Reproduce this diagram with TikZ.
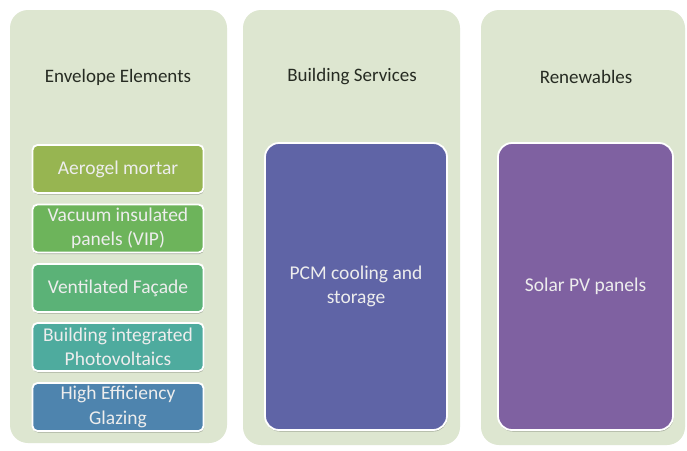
\documentclass[tikz,border=0pt]{standalone}
\usepackage{fontspec}
\setmainfont{Carlito}
\usetikzlibrary{shadows}
\definecolor{panelbg}{HTML}{DDE6D0}
\definecolor{cA}{HTML}{97B551}
\definecolor{cB}{HTML}{6DB45B}
\definecolor{cC}{HTML}{5BB277}
\definecolor{cD}{HTML}{4EAB9E}
\definecolor{cE}{HTML}{4E84AE}
\definecolor{cF}{HTML}{5F64A6}
\definecolor{cG}{HTML}{7F61A1}
\definecolor{titlecol}{HTML}{262B22}
\tikzset{
  panel/.style={fill=panelbg, draw=none, rounded corners=18pt, inner sep=0pt},
  ptitle/.style={font=\fontsize{19}{23}\selectfont, text=titlecol},
  item/.style={draw=white, line width=1.8pt, rounded corners=5pt, minimum width=171pt, minimum height=48pt,
    font=\fontsize{19.5}{24.5}\selectfont, text=white!93!black, align=center, inner sep=1pt,
    drop shadow={shadow xshift=0.5pt, shadow yshift=-1.5pt, fill=black, opacity=0.25}},
  bigitem/.style={draw=white, line width=1.8pt, rounded corners=14pt,
    font=\fontsize{19.5}{24.5}\selectfont, text=white!93!black, align=center, inner sep=0pt,
    drop shadow={shadow xshift=0.5pt, shadow yshift=-1.5pt, fill=black, opacity=0.25}}
}
\begin{document}
\begin{tikzpicture}[x=1pt,y=-1pt]
\useasboundingbox (0,0) rectangle (687,450);
\fill[white] (0,0) rectangle (687,450);
% panels
\node[panel, minimum width=217pt, minimum height=433pt] (p1) at (118.5,226.5) {};
\node[panel, minimum width=217pt, minimum height=435pt] (p2) at (351.5,227.5) {};
\node[panel, minimum width=204pt, minimum height=435pt] (p3) at (583,227.5) {};
% titles
\node[ptitle] (t1) at (118,77) {Envelope Elements};
\node[ptitle] (t2) at (352,77) {Building Services};
\node[ptitle] (t3) at (586,77) {Renewables};
% envelope items
\node[item, fill=cA] (e1) at (118,169) {Aerogel mortar};
\node[item, fill=cB] (e2) at (118,228.5) {Vacuum insulated\\panels (VIP)};
\node[item, fill=cC] (e3) at (118,288) {Ventilated Façade};
\node[item, fill=cD] (e4) at (118,347) {Building integrated\\Photovoltaics};
\node[item, fill=cE] (e5) at (118,407) {High Efficiency\\Glazing};
% big items
\node[bigitem, fill=cF, minimum width=182pt, minimum height=287pt] (s1) at (356,286.5) {PCM cooling and\\storage};
\node[bigitem, fill=cG, minimum width=175pt, minimum height=287pt] (r1) at (585.5,286.5) {Solar PV panels};
\end{tikzpicture}
\end{document}
